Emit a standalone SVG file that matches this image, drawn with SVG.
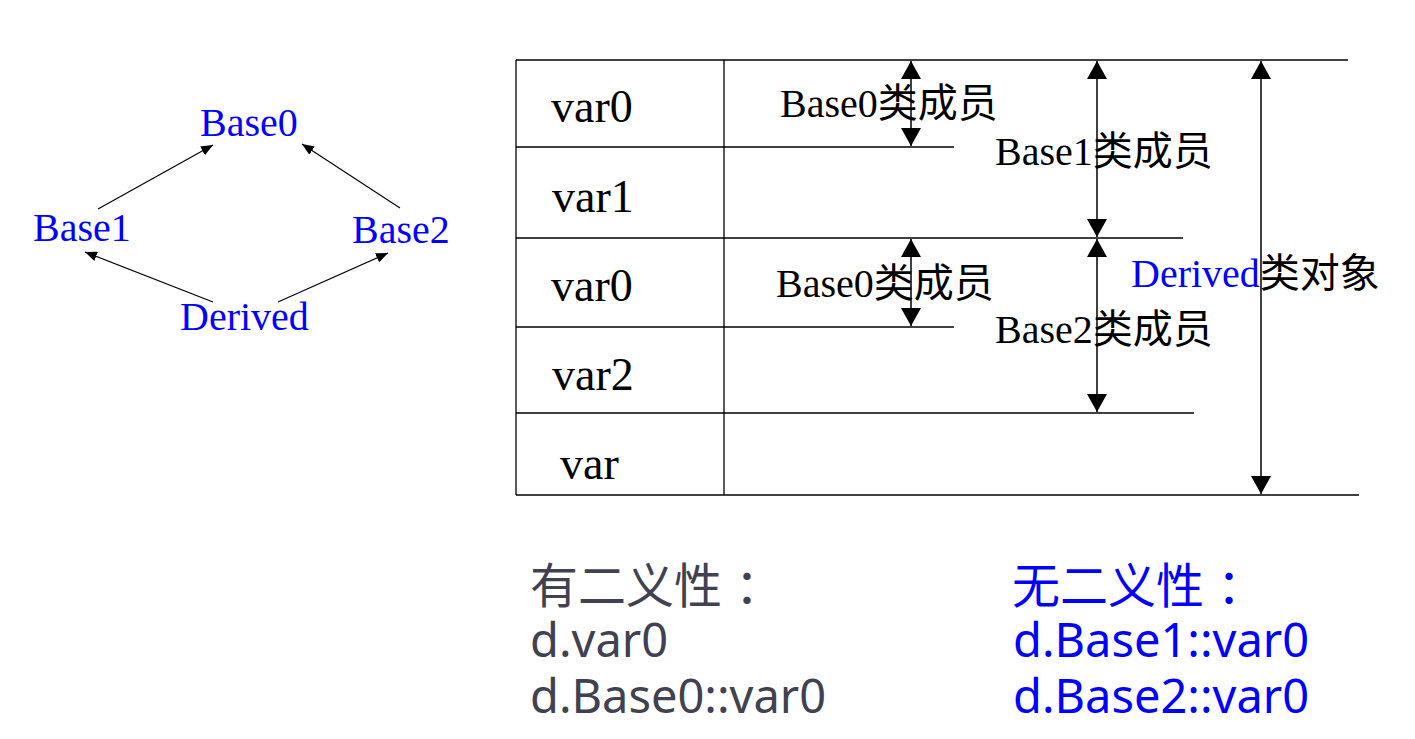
<svg xmlns="http://www.w3.org/2000/svg" width="1415" height="739" viewBox="0 0 1415 739">
<style>
.serif{font-family:"Liberation Serif","Noto Sans CJK SC",serif;}
.blue{fill:#0000ff;}
.blk{fill:#000;}
.node{font-size:40px;}
.cell{font-size:46px;}
.lbl{font-size:40px;}
.sans{font-family:"Noto Sans","Noto Sans CJK SC",sans-serif;font-size:47px;}
.cjk{font-family:"Noto Sans CJK SC",sans-serif;font-size:48px;}
.gray{fill:#414150;}
.ln{stroke:#000;stroke-width:1.3;fill:none;}
.dim{stroke:#000;stroke-width:1.5;fill:none;marker-start:url(#bigS);marker-end:url(#bigE);}
.arr{stroke:#000;stroke-width:1.2;fill:none;marker-end:url(#small);}
</style>
<defs>
<marker id="bigE" markerUnits="userSpaceOnUse" viewBox="0 0 18 20" refX="18" refY="10" markerWidth="18" markerHeight="20" orient="auto"><path d="M0,0 L18,10 L0,20 Z" fill="#000"/></marker>
<marker id="bigS" markerUnits="userSpaceOnUse" viewBox="0 0 18 20" refX="0" refY="10" markerWidth="18" markerHeight="20" orient="auto"><path d="M18,0 L0,10 L18,20 Z" fill="#000"/></marker>
<marker id="small" markerUnits="userSpaceOnUse" viewBox="0 0 12 10" refX="12" refY="5" markerWidth="12" markerHeight="10" orient="auto"><path d="M0,0 L12,5 L0,10 Z" fill="#000"/></marker>
</defs>
<rect width="1415" height="739" fill="#fff"/>

<g id="connectors">
<line class="arr" x1="98" y1="209" x2="213" y2="145"/>
<line class="arr" x1="400" y1="208" x2="302" y2="144"/>
<line class="arr" x1="213" y1="302" x2="85" y2="252"/>
<line class="arr" x1="278" y1="302" x2="388" y2="253"/>
</g>

<g id="node-base0"><text class="serif node blue" x="200" y="136">Base0</text></g>
<g id="node-base1"><text class="serif node blue" x="33" y="241">Base1</text></g>
<g id="node-base2"><text class="serif node blue" x="352" y="243">Base2</text></g>
<g id="node-derived"><text class="serif node blue" x="180" y="330">Derived</text></g>

<g id="table">
<line class="ln" x1="516" y1="60" x2="1348" y2="60"/>
<line class="ln" x1="516" y1="147" x2="954" y2="147"/>
<line class="ln" x1="516" y1="238" x2="1183" y2="238"/>
<line class="ln" x1="516" y1="327" x2="954" y2="327"/>
<line class="ln" x1="516" y1="413" x2="1194" y2="413"/>
<line class="ln" x1="516" y1="495" x2="1359" y2="495"/>
<line class="ln" x1="516" y1="60" x2="516" y2="495"/>
<line class="ln" x1="724" y1="60" x2="724" y2="495"/>
<text class="serif cell blk" x="551" y="122">var0</text>
<text class="serif cell blk" x="552" y="212">var1</text>
<text class="serif cell blk" x="551" y="301">var0</text>
<text class="serif cell blk" x="552" y="390">var2</text>
<text class="serif cell blk" x="560" y="479">var</text>
</g>

<g id="dimensions">
<line class="dim" x1="911" y1="61" x2="911" y2="146"/>
<line class="dim" x1="911" y1="239" x2="911" y2="326"/>
<line class="dim" x1="1097" y1="61" x2="1097" y2="237"/>
<line class="dim" x1="1097" y1="239" x2="1097" y2="412"/>
<line class="dim" x1="1261" y1="61" x2="1261" y2="494"/>
<text class="serif lbl blk" x="780" y="117">Base0类成员</text>
<text class="serif lbl blk" x="776" y="297">Base0类成员</text>
<text class="serif lbl blk" x="995" y="165">Base1类成员</text>
<text class="serif lbl blk" x="995" y="343">Base2类成员</text>
<text class="serif lbl" x="1131" y="287"><tspan class="blue">Derived</tspan><tspan class="blk">类对象</tspan></text>
</g>

<g id="ambiguous">
<text class="cjk gray" x="530" y="603">有二义性<tspan x="735">：</tspan></text>
<text class="sans gray" x="530" y="657">d.var0</text>
<text class="sans gray" x="530" y="713">d.Base0::var0</text>
</g>
<g id="unambiguous">
<text class="cjk blue" x="1012" y="603">无二义性<tspan x="1217">：</tspan></text>
<text class="sans blue" x="1013" y="657">d.Base1::var0</text>
<text class="sans blue" x="1013" y="713">d.Base2::var0</text>
</g>
</svg>
